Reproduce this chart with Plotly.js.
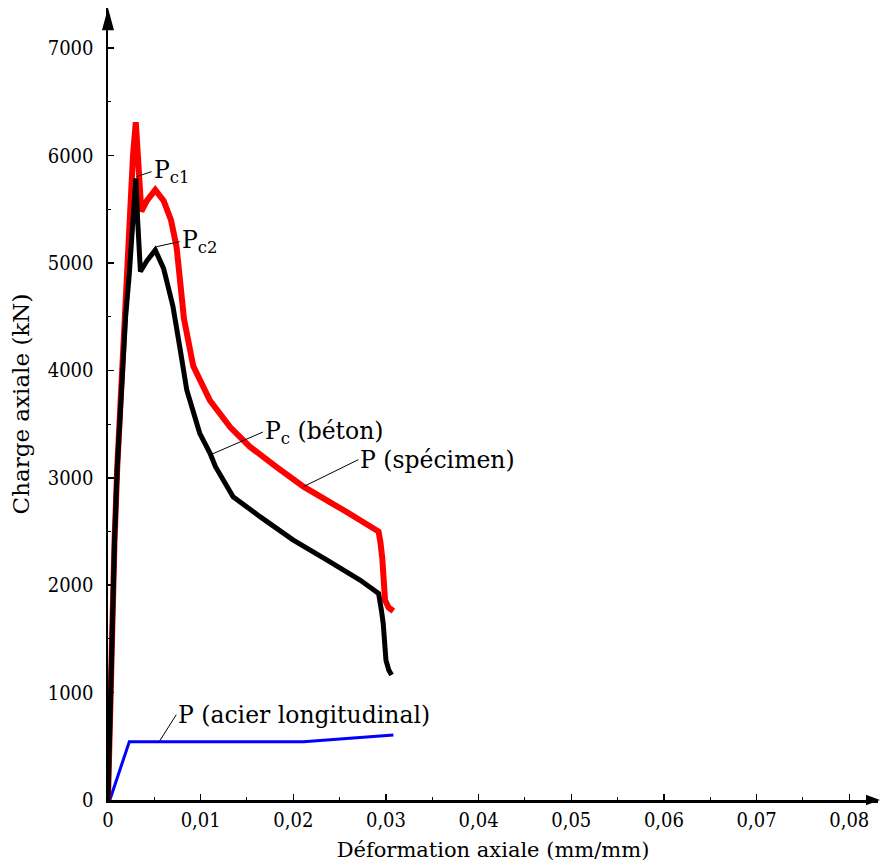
<!DOCTYPE html>
<html>
<head>
<meta charset="utf-8">
<script src="https://cdn.plot.ly/plotly-3.0.1.min.js"></script>
<style>html,body{margin:0;padding:0;background:#fff;}#chart{width:880px;height:867px;}</style>
</head>
<body>
<div id="chart"></div>
<script>
// P (spécimen) — red
const specStrain = [0, 0.0002, 0.0004, 0.0007, 0.001, 0.0014, 0.0018, 0.0023, 0.0027, 0.003, 0.0033, 0.0036, 0.0042, 0.0051, 0.006, 0.0068, 0.0074, 0.0078, 0.0082, 0.0092, 0.011, 0.0132, 0.0153, 0.0182, 0.0211, 0.0254, 0.0292, 0.0294, 0.0296, 0.0299, 0.0303, 0.0308];
const specLoad   = [0, 800, 1600, 2400, 3100, 3800, 4600, 5450, 6000, 6310, 5800, 5480, 5580, 5680, 5580, 5400, 5150, 4800, 4480, 4040, 3720, 3470, 3290, 3100, 2917, 2700, 2500, 2400, 2250, 1860, 1790, 1760];
// Pc (béton) — black
const betonStrain = [0, 0.0002, 0.0004, 0.0007, 0.001, 0.0014, 0.0019, 0.0023, 0.0026, 0.003, 0.0032, 0.0035, 0.0042, 0.0051, 0.006, 0.007, 0.0078, 0.0085, 0.0099, 0.011, 0.0116, 0.0135, 0.0164, 0.02, 0.0236, 0.0272, 0.0292, 0.02935, 0.0295, 0.0297, 0.03, 0.0303, 0.0306];
const betonLoad   = [0, 800, 1600, 2400, 3100, 3800, 4500, 4900, 5300, 5788, 5400, 4920, 5020, 5120, 4950, 4600, 4190, 3817, 3414, 3231, 3103, 2824, 2638, 2420, 2235, 2048, 1924, 1862, 1769, 1645, 1300, 1210, 1164];
// P (acier longitudinal) — blue
const acierStrain = [0.0002, 0.0023, 0.0211, 0.0308];
const acierLoad   = [0, 543, 543, 605];

const xTickVals = [0, 0.01, 0.02, 0.03, 0.04, 0.05, 0.06, 0.07, 0.08];
const xTickText = ["0", "0,01", "0,02", "0,03", "0,04", "0,05", "0,06", "0,07", "0,08"];
const yTickVals = [0, 1000, 2000, 3000, 4000, 5000, 6000, 7000];
const yTickText = ["0", "1000", "2000", "3000", "4000", "5000", "6000", "7000"];

const TICKFONT = "DejaVu Serif Condensed, DejaVu Serif, serif";
const FONT = "DejaVu Serif, serif";

const traces = [
  {x: acierStrain, y: acierLoad, mode: 'lines', name: 'P (acier longitudinal)', line: {color: '#0000ff', width: 3}},
  {x: specStrain, y: specLoad, mode: 'lines', name: 'P (spécimen)', line: {color: '#ff0000', width: 6}},
  {x: betonStrain, y: betonLoad, mode: 'lines', name: 'Pc (béton)', line: {color: '#000000', width: 5}}
];

const ann = (x, y, ax, ay, text) => ({
  x: x, y: y, xref: 'x', yref: 'y', ax: ax, ay: ay, text: text,
  showarrow: true, arrowhead: 0, arrowwidth: 1, arrowcolor: '#000',
  xanchor: 'left', yanchor: 'middle', font: {family: FONT, size: 23.5, color: '#000'}
});

const layout = {
  width: 880, height: 867,
  margin: {l: 108, r: 2, t: 8, b: 67},
  paper_bgcolor: '#fff', plot_bgcolor: '#fff',
  showlegend: false,
  font: {family: FONT, size: 20, color: '#000'},
  xaxis: {
    range: [0, 0.0831], showgrid: false, zeroline: false,
    showline: true, linecolor: '#000', linewidth: 2.5,
    tickmode: 'array', tickvals: xTickVals, ticktext: xTickText,
    ticks: 'inside', ticklen: 6, tickwidth: 1.5, tickcolor: '#000',
    minor: {dtick: 0.005, ticks: 'inside', ticklen: 3, tickwidth: 1, tickcolor: '#000', showgrid: false},
    title: {text: 'Déformation axiale (mm/mm)', standoff: 12, font: {family: FONT, size: 21}},
    tickfont: {family: TICKFONT, size: 20}
  },
  yaxis: {
    range: [0, 7374], showgrid: false, zeroline: false,
    showline: true, linecolor: '#000', linewidth: 2.5,
    tickmode: 'array', tickvals: yTickVals, ticktext: yTickText,
    ticks: 'inside', ticklen: 6, tickwidth: 1.5, tickcolor: '#000',
    minor: {dtick: 500, ticks: 'inside', ticklen: 3, tickwidth: 1, tickcolor: '#000', showgrid: false},
    ticklabelstandoff: 8,
    title: {text: 'Charge axiale (kN)', standoff: 12, font: {family: FONT, size: 23}},
    tickfont: {family: TICKFONT, size: 20}
  },
  shapes: [
    {type: 'path', xref: 'paper', yref: 'paper', path: 'M1.0026,0 L0.9844,0.0066 L0.9844,-0.0066 Z', fillcolor: '#000', line: {width: 0}},
    {type: 'path', xref: 'paper', yref: 'paper', path: 'M0,1.0 L-0.0078,0.972 L0.0078,0.972 Z', fillcolor: '#000', line: {width: 0}}
  ],
  annotations: [
    ann(0.00309, 5804, 15, -5, 'P<sub>c1</sub>'),
    ann(0.00525, 5152, 23, -5, 'P<sub>c2</sub>'),
    ann(0.0110, 3212, 53, -23, 'P<sub>c</sub> (béton)'),
    ann(0.02108, 2917, 55, -27, 'P (spécimen)'),
    ann(0.00553, 543, 17, -27, 'P (acier longitudinal)')
  ]
};

Plotly.newPlot('chart', traces, layout, {displayModeBar: false, staticPlot: true});
</script>
</body>
</html>
